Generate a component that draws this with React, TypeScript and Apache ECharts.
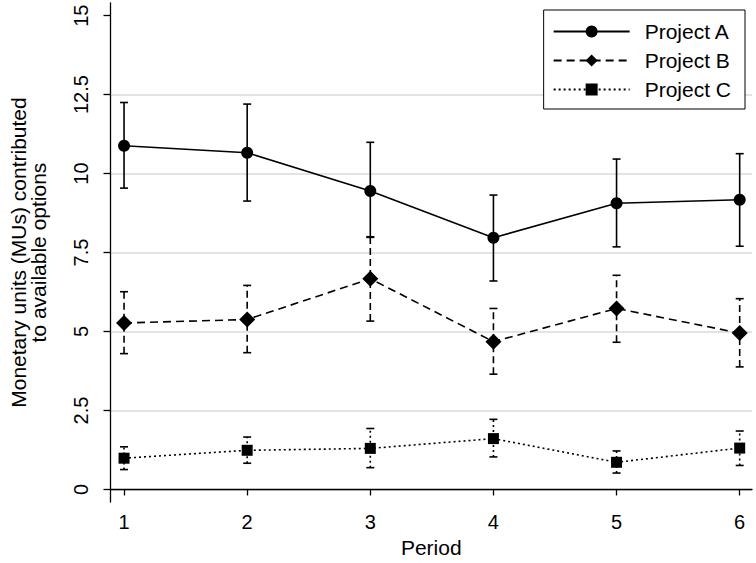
import React, { useEffect, useRef } from "react";
import * as echarts from "echarts";

const periods = [1, 2, 3, 4, 5, 6];
const meanA = [10.88, 10.66, 9.45, 7.97, 9.06, 9.17];
const lowA = [9.54, 9.13, 7.98, 6.6, 7.68, 7.7];
const highA = [12.25, 12.2, 10.99, 9.32, 10.46, 10.63];
const meanB = [5.27, 5.38, 6.67, 4.68, 5.73, 4.95];
const lowB = [4.3, 4.33, 5.33, 3.65, 4.66, 3.88];
const highB = [6.26, 6.46, 8.0, 5.73, 6.78, 6.04];
const meanC = [0.99, 1.24, 1.3, 1.61, 0.86, 1.31];
const lowC = [0.63, 0.83, 0.69, 1.03, 0.52, 0.76];
const highC = [1.35, 1.66, 1.93, 2.22, 1.22, 1.85];
const yTicks = [0, 2.5, 5, 7.5, 10, 12.5, 15];
const gridValues = [0, 2.5, 5, 7.5, 10, 12.5];
const seriesNames = ["Project A", "Project B", "Project C"];

const FONT = "'Liberation Sans', Arial, sans-serif";

function errorSeries(name: string, low: number[], high: number[], dash: number[] | null) {
  return {
    type: "custom",
    name,
    z: 1,
    silent: true,
    data: periods.map((p, i) => [p, low[i], high[i]]),
    renderItem: (params: any, api: any) => {
      const x = api.value(0);
      const lo = api.coord([x, api.value(1)]);
      const hi = api.coord([x, api.value(2)]);
      const half = 4;
      const style: any = { stroke: "#000", lineWidth: 1.6, fill: null };
      if (dash) style.lineDash = dash;
      return {
        type: "group",
        children: [
          { type: "line", shape: { x1: lo[0], y1: lo[1], x2: hi[0], y2: hi[1] }, style },
          { type: "line", shape: { x1: hi[0] - half, y1: hi[1], x2: hi[0] + half, y2: hi[1] }, style: { stroke: "#000", lineWidth: 1.6 } },
          { type: "line", shape: { x1: lo[0] - half, y1: lo[1], x2: lo[0] + half, y2: lo[1] }, style: { stroke: "#000", lineWidth: 1.6 } },
        ],
      };
    },
  };
}

function lineSeries(name: string, values: number[], symbol: string, size: number, type: any, extra: any = {}) {
  return {
    type: "line",
    name,
    z: 3,
    data: periods.map((p, i) => [p, values[i]]),
    symbol,
    symbolSize: size,
    showSymbol: true,
    itemStyle: { color: "#000" },
    lineStyle: { color: "#000", width: 1.6, type },
    ...extra,
  };
}

export default function App() {
  const ref = useRef<HTMLDivElement>(null);
  useEffect(() => {
    if (!ref.current) return;
    const chart = echarts.init(ref.current, null, { renderer: "svg" });
    chart.setOption({
      animation: false,
      backgroundColor: "#fff",
      textStyle: { fontFamily: FONT, color: "#000" },
      grid: { left: 103, right: 4, top: 3, bottom: 54, containLabel: false },
      legend: {
        data: seriesNames,
        orient: "vertical",
        right: 11,
        top: 10,
        itemWidth: 76,
        itemHeight: 15,
        itemGap: 8,
        padding: [11, 14, 9, 9],
        borderColor: "#000",
        borderWidth: 1,
        backgroundColor: "#fff",
        selectedMode: false,
        textStyle: { fontFamily: FONT, fontSize: 21, color: "#000", padding: [0, 0, 0, 10] },
      },
      xAxis: {
        type: "value",
        min: 0.89,
        max: 6.1,
        name: "Period",
        nameLocation: "middle",
        nameGap: 26,
        nameTextStyle: { fontFamily: FONT, fontSize: 21, color: "#000", verticalAlign: "top" },
        axisLine: { show: true, lineStyle: { color: "#000", width: 1.3 } },
        axisTick: { show: true, length: 6, lineStyle: { color: "#000", width: 1.3 }, customValues: periods },
        axisLabel: { fontFamily: FONT, fontSize: 20, color: "#000", margin: 10, customValues: periods },
        splitLine: { show: false },
      },
      yAxis: {
        type: "value",
        min: -0.4,
        max: 15.4,
        name: "Monetary units (MUs) contributed\nto available options",
        nameLocation: "middle",
        nameRotate: 90,
        nameGap: 62,
        nameTextStyle: { fontFamily: FONT, fontSize: 21, color: "#000", lineHeight: 20, align: "center" },
        axisLine: { show: true, lineStyle: { color: "#000", width: 1.3 } },
        axisTick: { show: true, length: 7, lineStyle: { color: "#000", width: 1.3 }, customValues: yTicks },
        axisLabel: {
          fontFamily: FONT,
          fontSize: 20,
          color: "#000",
          rotate: 90,
          margin: 20,
          customValues: yTicks,
          formatter: (v: number) => String(v),
        },
        splitLine: { show: false },
      },
      series: [
        lineSeries("Project A", meanA, "circle", 12, "solid", {
          markLine: {
            silent: true,
            symbol: "none",
            label: { show: false },
            lineStyle: { color: "#e3e3e3", width: 1.8, type: "solid" },
            data: gridValues.map((v) => ({ yAxis: v })),
            z: 0,
          },
        }),
        lineSeries("Project B", meanB, "diamond", 16, [8, 5]),
        lineSeries("Project C", meanC, "rect", 11, [2, 3]),
        errorSeries("errA", lowA, highA, null),
        errorSeries("errB", lowB, highB, [7, 4]),
        errorSeries("errC", lowC, highC, [2, 3]),
      ],
    });
    return () => chart.dispose();
  }, []);
  return <div ref={ref} style={{ position: "fixed", left: 0, top: 0, width: 756, height: 563 }} />;
}
